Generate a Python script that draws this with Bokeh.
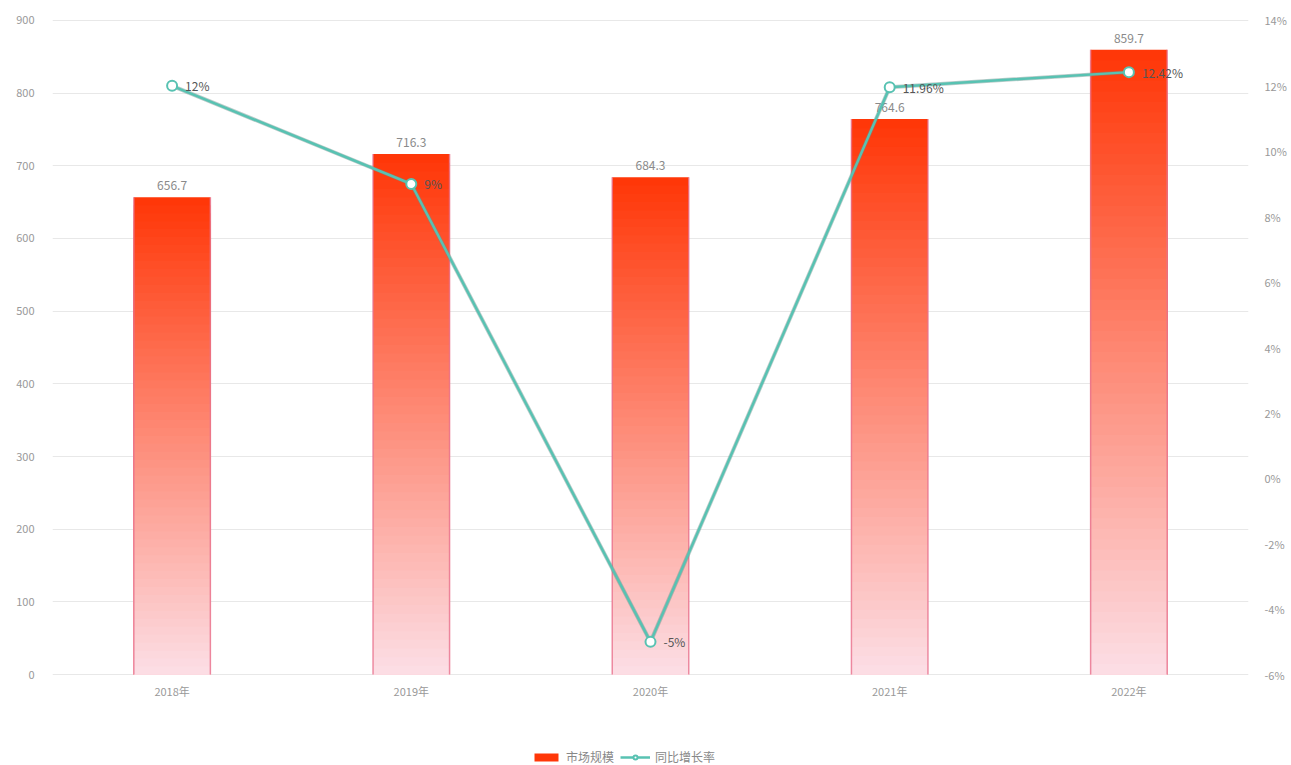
from bokeh.plotting import figure
from bokeh.models import (ColumnDataSource, FactorRange, Range1d, LinearAxis, FixedTicker,
                          PrintfTickFormatter, Legend, LegendItem)
from bokeh.transform import dodge
from bokeh.core.properties import value
from bokeh.embed import file_html
from bokeh.resources import INLINE

# ---- data ----
years = ["2018年", "2019年", "2020年", "2021年", "2022年"]
market_size = [656.7, 716.3, 684.3, 764.6, 859.7]
growth_rate = [12, 9, -5, 11.96, 12.42]
left_ticks = [0, 100, 200, 300, 400, 500, 600, 700, 800, 900]
right_ticks = [-6, -4, -2, 0, 2, 4, 6, 8, 10, 12, 14]

FONT = "Noto Sans CJK SC"
BAR_W = 0.32
TOP_RGB = (255, 55, 8)
BOT_RGB = (252, 224, 232)
N = 60

p = figure(width=1291, height=765, x_range=FactorRange(*years, range_padding=0),
           y_range=Range1d(-125.2, 927.5), output_backend="svg", toolbar_location=None,
           min_border_left=52, min_border_right=43, min_border_top=0, min_border_bottom=0)
p.outline_line_color = None
p.background_fill_color = "white"
p.border_fill_color = "white"
p.xgrid.grid_line_color = None
p.ygrid.grid_line_color = "#e8e8e8"
p.ygrid.ticker = FixedTicker(ticks=left_ticks)

p.extra_y_ranges = {"pct": Range1d(-8.78, 14.61)}

# gradient bars: layered rects from tallest (top colour) to shortest (bottom colour)
gx, gtop, gcol = [], [], []
for i in range(N):
    frac = (N - i) / N
    t = 1 - frac  # 0 at top, 1 at bottom
    r = round(TOP_RGB[0] + (BOT_RGB[0] - TOP_RGB[0]) * t)
    g = round(TOP_RGB[1] + (BOT_RGB[1] - TOP_RGB[1]) * t)
    b = round(TOP_RGB[2] + (BOT_RGB[2] - TOP_RGB[2]) * t)
    col = "#%02x%02x%02x" % (r, g, b)
    for y, v in zip(years, market_size):
        gx.append(y)
        gtop.append(v * frac)
        gcol.append(col)
gsrc = ColumnDataSource(dict(x=gx, top=gtop, c=gcol))
grad_r = p.vbar(x="x", top="top", bottom=0, width=BAR_W, fill_color="c", line_color="#e8738f",
                line_width=0, line_alpha=0, source=gsrc)

bsrc = ColumnDataSource(dict(x=years, v=market_size, lbl=[f"{v:.1f}" for v in market_size]))
# side borders of bars
for off in (-BAR_W / 2, BAR_W / 2):
    p.segment(x0=dodge("x", off, range=p.x_range), y0=0,
              x1=dodge("x", off, range=p.x_range), y1="v",
              line_color="#e8738f", line_width=1.5, line_alpha=0.8, source=bsrc)

p.text(x="x", y="v", text="lbl", source=bsrc, text_align="center", text_baseline="bottom",
       y_offset=-7, text_font=value(FONT), text_font_size="12px", text_color="#8a8a8a")

# line series
lsrc = ColumnDataSource(dict(x=years, g=growth_rate, lbl=[f"{v:g}%" for v in growth_rate]))
p.line(x="x", y="g", source=lsrc, y_range_name="pct", line_color="#6b8f8a", line_width=4, line_alpha=0.45)
line_r = p.line(x="x", y="g", source=lsrc, y_range_name="pct", line_color="#58c2b2", line_width=2.5)
circ_r = p.scatter(x="x", y="g", source=lsrc, y_range_name="pct", size=10, marker="circle",
                   fill_color="white", line_color="#58c2b2", line_width=2)
p.text(x="x", y="g", text="lbl", source=lsrc, y_range_name="pct", text_align="left",
       text_baseline="middle", x_offset=13, text_font=value(FONT), text_font_size="12px",
       text_color="#555555")

# axes
p.yaxis.ticker = FixedTicker(ticks=left_ticks)
p.xaxis.fixed_location = 0
for ax in [p.yaxis[0], p.xaxis[0]]:
    ax.axis_line_color = None
    ax.major_tick_line_color = None
    ax.minor_tick_line_color = None
    ax.major_label_text_color = "#999999"
    ax.major_label_text_font = FONT
    ax.major_label_text_font_size = "11px"
p.yaxis.major_label_standoff = 12
p.xaxis.major_label_standoff = 2

ra = LinearAxis(y_range_name="pct", ticker=FixedTicker(ticks=right_ticks),
                formatter=PrintfTickFormatter(format="%d%%"))
ra.axis_line_color = None
ra.major_tick_line_color = None
ra.minor_tick_line_color = None
ra.major_label_text_color = "#999999"
ra.major_label_text_font = FONT
ra.major_label_text_font_size = "11px"
ra.major_label_standoff = 10
p.add_layout(ra, "right")

legend = Legend(items=[LegendItem(label="市场规模", renderers=[grad_r], index=0),
                       LegendItem(label="同比增长率", renderers=[line_r, circ_r])],
                orientation="horizontal", location=(479, 0), border_line_color=None,
                background_fill_alpha=0, label_text_font=FONT, label_text_font_size="12px",
                label_text_color="#888888", glyph_width=30, glyph_height=10, spacing=6,
                padding=2, margin=0, label_standoff=5)
p.add_layout(legend, "center")

open("out.html", "w").write(file_html(p, INLINE))
